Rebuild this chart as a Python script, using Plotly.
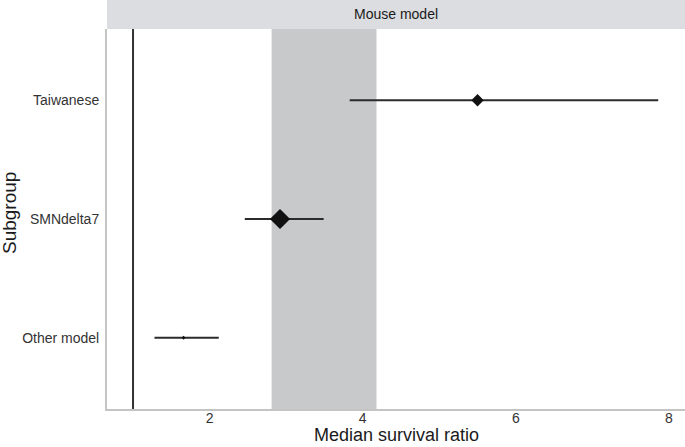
import plotly.graph_objects as go

subgroups = ["Other model", "SMNdelta7", "Taiwanese"]
estimate = [1.66, 2.92, 5.50]
ci_low = [1.28, 2.46, 3.83]
ci_high = [2.12, 3.49, 7.86]
marker_sizes = [3, 15.5, 9.5]
band_low = 2.81
band_high = 4.18
ref_line = 1.0
x_ticks = [2, 4, 6, 8]
facet_label = "Mouse model"

ypos = list(range(1, len(subgroups) + 1))

T, B, L = 29, 38, 107
PH = 447 - T - B

fig = go.Figure()
fig.add_shape(type="rect", xref="x", yref="paper", x0=band_low, x1=band_high, y0=0, y1=1,
              fillcolor="#c8c9cb", line_width=0, layer="below")
fig.add_shape(type="line", xref="x", yref="paper", x0=ref_line, x1=ref_line, y0=0, y1=1,
              line=dict(color="#333333", width=2), layer="below")
# facet strip
fig.add_shape(type="rect", xref="paper", yref="paper", x0=0, x1=1, y0=1.0, y1=1 + T/PH,
              fillcolor="#dcdde0", line_width=0)
fig.add_annotation(xref="paper", yref="paper", x=0.5, y=1 + 14.5/PH, text=facet_label,
                   showarrow=False, font=dict(size=14, color="#1a1a1a"), yanchor="middle")
# axis titles
fig.add_annotation(xref="paper", yref="paper", x=0.5, y=-(435 - (447 - B)) / PH,
                   text="Median survival ratio", showarrow=False,
                   font=dict(size=18, color="#1a1a1a"), yanchor="middle")
fig.add_annotation(xref="paper", yref="paper", x=-(L - 10) / 578, xanchor="center",
                   y=1 - (213 - T) / PH, yanchor="middle",
                   text="Subgroup", showarrow=False, textangle=-90,
                   font=dict(size=19, color="#1a1a1a"))

fig.add_trace(go.Scatter(
    x=estimate, y=ypos, mode="markers",
    marker=dict(symbol="diamond", size=marker_sizes, color="#111111", opacity=1,
                line=dict(width=0)),
    error_x=dict(type="data", symmetric=False,
                 array=[h - e for h, e in zip(ci_high, estimate)],
                 arrayminus=[e - l for e, l in zip(estimate, ci_low)],
                 color="#2b2b2b", thickness=2, width=0),
    showlegend=False,
))

fig.update_layout(
    width=685, height=447,
    margin=dict(l=L, r=0, t=T, b=B),
    paper_bgcolor="white", plot_bgcolor="white",
    font=dict(family="Liberation Sans, Arial, sans-serif", color="#333333"),
    xaxis=dict(range=[0.66, 8.21], tickvals=x_ticks, ticktext=[str(t) for t in x_ticks],
               showgrid=False, zeroline=False, showline=True, linecolor="#c4c4c4", linewidth=2,
               ticks="", automargin=False, ticklabelstandoff=-5,
               tickfont=dict(size=14, color="#333333")),
    yaxis=dict(range=[0.4, 3.6], tickvals=ypos, ticktext=subgroups,
               showgrid=False, zeroline=False, showline=True, linecolor="#c4c4c4", linewidth=2,
               ticks="outside", ticklen=3, tickcolor="rgba(0,0,0,0)", automargin=False,
               tickfont=dict(size=14, color="#333333")),
)

fig.write_html("out.html", config={"displayModeBar": False},
               post_script="document.body.style.margin='0';document.body.style.overflow='hidden';")
